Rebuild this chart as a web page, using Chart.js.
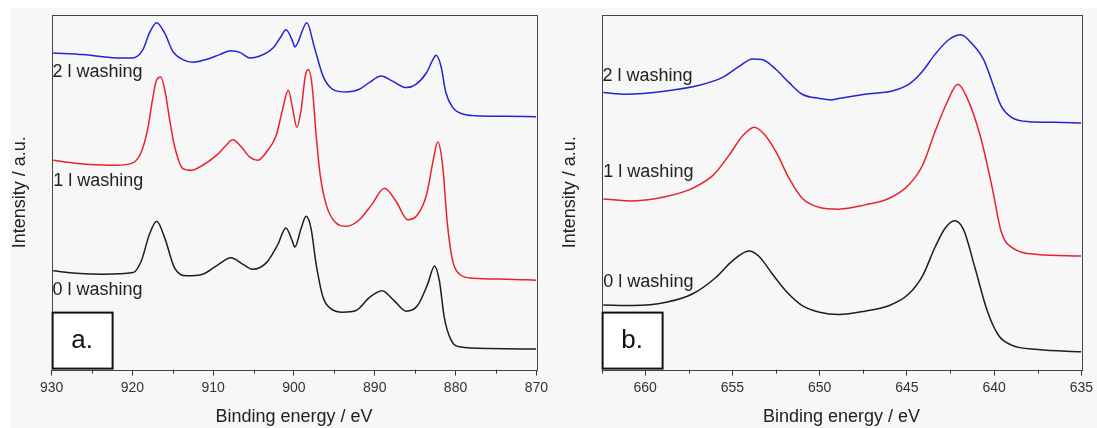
<!DOCTYPE html>
<html>
<head>
<meta charset="utf-8">
<script src="https://cdn.jsdelivr.net/npm/chart.js@4.4.1/dist/chart.umd.min.js"></script>
<style>
  html, body { margin:0; padding:0; background:#ffffff; width:1097px; height:428px; overflow:hidden; }
  #bg { position:absolute; left:10px; top:8px; width:1087px; height:420px; background:#f7f7f7; }
  canvas { position:absolute; top:0; }
  #ca { left:0; }
  #cb { left:548px; }
</style>
</head>
<body>
<div id="bg"></div>
<canvas id="ca" width="552" height="428"></canvas>
<canvas id="cb" width="549" height="428"></canvas>
<script>
// ---------- Panel a (Ce 3d region) ----------
const seriesNames = ['2 l washing', '1 l washing', '0 l washing'];
const seriesColors = ['#2424d4', '#e8232b', '#1e1e1e'];

const energyA2 = [929.8, 926.1, 922.0, 919.9, 918.7, 917.9, 917.0, 916.0, 915.0, 913.75, 912.5, 910.9, 909.2, 907.8, 906.7, 905.5, 904.3, 902.6, 901.6, 901.0, 900.15, 899.9, 898.4, 897.5, 896.4, 895.2, 893.5, 891.9, 890.7, 889.2, 887.8, 886.1, 884.9, 883.6, 882.8, 882.4, 881.8, 881.2, 880.35, 879.1, 877.5, 873.7, 870.0];
const intensA2 = [319.7, 318, 314.7, 314.7, 323, 339.7, 350.3, 339.7, 321.3, 313, 310.3, 313, 318, 322, 320.3, 314.7, 316.3, 324.7, 336.3, 343, 331.3, 325.7, 350.3, 326.3, 296.3, 283, 280.3, 283, 289.7, 296.3, 291.3, 284.7, 288, 299.7, 313, 317.3, 306.3, 279.7, 264.7, 258, 256.3, 255.7, 255.3];

const energyA1 = [929.8, 927.8, 925.3, 922.0, 919.9, 918.9, 918.1, 917.5, 917.05, 916.5, 916.0, 915.4, 914.8, 913.75, 912.7, 911.3, 909.6, 908.4, 907.6, 906.5, 905.5, 904.5, 903.4, 902.2, 901.4, 900.7, 900.15, 899.65, 899.1, 898.6, 898.2, 897.75, 897.25, 896.75, 896.0, 895.0, 893.5, 891.9, 890.4, 888.8, 887.35, 885.9, 884.7, 883.6, 882.8, 882.2, 881.6, 881.0, 880.35, 879.5, 877.9, 873.7, 870.0];
const intensA1 = [211.3, 209, 207, 206.3, 209, 219.7, 243, 273, 291.3, 295.3, 283, 253, 226.3, 203, 201.3, 206.3, 216.3, 226.3, 232, 224.7, 214.7, 211.3, 219.7, 236.3, 263, 282, 263, 244.7, 263, 296.3, 303, 286.3, 236.3, 196.3, 166.3, 149.7, 144.7, 151.3, 166.3, 183, 169.7, 151.3, 156.3, 176.3, 209.7, 229.7, 206.3, 146.3, 109.7, 96.3, 92.3, 91.3, 90.3];

const energyA0 = [929.8, 926.95, 923.65, 919.9, 918.9, 917.9, 917.0, 916.0, 914.8, 913.3, 911.3, 909.6, 907.8, 906.3, 905.1, 903.4, 902.0, 901.0, 900.2, 899.9, 899.1, 898.5, 897.9, 897.25, 896.4, 895.4, 894.0, 892.3, 890.65, 889.1, 887.6, 886.1, 884.7, 883.45, 882.6, 882.0, 881.4, 880.55, 879.5, 875.8, 870.0];
const intensA0 = [99.7, 97.3, 96.3, 98, 109.7, 136.3, 149.7, 133, 103, 94.7, 96.3, 104.7, 113, 106.3, 101.3, 108, 126.3, 143, 129.7, 123.7, 143, 154.7, 143, 106.3, 73, 61.3, 58, 59.7, 73, 79.7, 69.7, 59, 64.7, 86.3, 104.7, 89.7, 53, 29.7, 23, 21.3, 20.7];

// ---------- Panel b (Mn 2p region) ----------
const energyB2 = [662.4, 661.1, 658.8, 656.9, 655.6, 654.6, 653.85, 653.3, 652.5, 651.75, 651.0, 650.0, 649.3, 648.9, 647.4, 645.85, 644.9, 644.1, 643.4, 642.6, 641.9, 641.3, 640.6, 640.1, 639.6, 639.0, 638.0, 636.5, 635.0];
const intensB2 = [279.7, 278, 281.3, 287, 294.7, 306.3, 313.7, 313, 303, 289.7, 278, 273.7, 272.3, 273.7, 278, 281.3, 288, 301.3, 318, 333, 338, 329.7, 313, 289.7, 266.3, 254.7, 250.3, 249.7, 249];

const energyB1 = [662.4, 660.7, 658.8, 657.3, 656.1, 655.2, 654.4, 653.75, 653.2, 652.5, 651.75, 651.0, 650.0, 648.9, 647.4, 646.0, 644.9, 644.1, 643.4, 642.7, 642.08, 641.6, 640.8, 640.1, 639.6, 638.8, 637.5, 635.0];
const intensB1 = [172.3, 170.3, 174.7, 183, 196.3, 216.3, 236.3, 244.7, 238, 219.7, 193, 173, 163.7, 162, 166.3, 173, 186.3, 206.3, 239.7, 269.7, 288, 276.3, 236.3, 183, 139.7, 121.3, 116.3, 114.7];

const energyB0 = [662.4, 660.7, 658.8, 657.3, 655.95, 655.0, 654.05, 653.5, 652.7, 651.95, 651.0, 650.0, 648.9, 647.4, 646.0, 644.9, 644.1, 643.4, 642.8, 642.27, 641.75, 641.1, 640.4, 639.75, 639.0, 637.5, 635.0];
const intensB0 = [65.3, 64.7, 68, 76.3, 93, 109.7, 119.7, 114.7, 96.3, 79.7, 64.7, 58, 55.7, 59, 64.7, 76.3, 94.7, 123, 143, 150.3, 141.3, 103, 59.7, 34.7, 24.7, 20.3, 18];

// axis ranges / ticks
const rangeA = [870, 930], majorA = 10, minorA = 5;
const rangeB = [635, 662.5], majorB = 5, minorB = 2.5;
const yRange = [0, 358];

// label anchor positions (energy, intensity) for series names
const labelPosA = [[929.9, 300], [929.8, 190], [929.9, 80]];
const labelPosB = [[662.45, 296], [662.4, 199], [662.4, 88]];
const panelTags = ['a.', 'b.'];

const FONT = '"Liberation Sans", Arial, Helvetica, sans-serif';

function pts(xs, ys) { return xs.map((x, i) => ({ x: x, y: ys[i] })); }

const annotPlugin = {
  id: 'annot',
  afterDraw(chart, args, opts) {
    const { ctx, chartArea: ca, scales } = chart;
    const xs = scales.x, ys = scales.y;
    ctx.save();
    // frame
    ctx.strokeStyle = '#444';
    ctx.lineWidth = 1;
    ctx.strokeRect(Math.round(ca.left) + 0.5, Math.round(ca.top) + 0.5, Math.round(ca.right - ca.left), Math.round(ca.bottom - ca.top));
    // minor ticks
    ctx.beginPath();
    for (let v = opts.range[0]; v <= opts.range[1] + 1e-6; v += opts.minor) {
      if (Math.abs(v / opts.major - Math.round(v / opts.major)) < 1e-6) continue;
      const px = Math.round(xs.getPixelForValue(v)) + 0.5;
      ctx.moveTo(px, ca.bottom);
      ctx.lineTo(px, ca.bottom + 4);
    }
    ctx.strokeStyle = '#333';
    ctx.stroke();
    // series labels
    ctx.font = '18px ' + FONT;
    ctx.fillStyle = '#222';
    ctx.textAlign = 'left';
    ctx.textBaseline = 'middle';
    opts.labels.forEach((p, i) => {
      ctx.fillText(seriesNames[i], xs.getPixelForValue(p[0]), ys.getPixelForValue(p[1]));
    });
    // panel tag box
    const bx = ca.left, by = ca.bottom - 58, bw = 61, bh = 58;
    ctx.fillStyle = '#ffffff';
    ctx.fillRect(bx, by, bw, bh);
    ctx.lineWidth = 2;
    ctx.strokeStyle = '#111';
    ctx.strokeRect(bx + 1, by + 1, bw - 1, bh - 2);
    ctx.fillStyle = '#111';
    ctx.font = '26px ' + FONT;
    ctx.textAlign = 'center';
    ctx.fillText(opts.tag, bx + bw / 2, by + bh / 2);
    ctx.restore();
  }
};

function makeChart(id, sets, range, major, minor, labels, tag, padLeft, padRight) {
  const ds = sets.map((s, i) => ({
    label: seriesNames[i],
    data: pts(s[0], s[1]),
    borderColor: seriesColors[i],
    borderWidth: 1.5,
    pointRadius: 0,
    fill: false,
    cubicInterpolationMode: 'monotone'
  }));
  return new Chart(document.getElementById(id), {
    type: 'line',
    data: { datasets: ds },
    options: {
      responsive: false,
      devicePixelRatio: 1,
      animation: false,
      layout: { padding: { left: padLeft, right: padRight, top: 15, bottom: 0 } },
      plugins: {
        legend: { display: false },
        tooltip: { enabled: false },
        annot: { range: range, major: major, minor: minor, labels: labels, tag: tag }
      },
      scales: {
        x: {
          type: 'linear',
          reverse: true,
          min: range[0],
          max: range[1],
          border: { display: false },
          grid: {
            drawOnChartArea: false,
            drawTicks: true,
            tickLength: 6,
            tickColor: (c) => (Math.abs(c.tick.value / major - Math.round(c.tick.value / major)) < 1e-6 ? '#333' : 'rgba(0,0,0,0)')
          },
          ticks: {
            stepSize: minor,
            autoSkip: false,
            maxRotation: 0,
            padding: 4,
            color: '#333',
            font: { family: FONT, size: 14 },
            callback: (v) => (Math.abs(v / major - Math.round(v / major)) < 1e-6 ? String(Math.round(v)) : '')
          },
          title: {
            display: true,
            text: 'Binding energy / eV',
            color: '#222',
            font: { family: FONT, size: 18 },
            padding: { top: 6, bottom: 0 }
          }
        },
        y: {
          min: yRange[0],
          max: yRange[1],
          border: { display: false },
          grid: { display: false, drawTicks: false },
          ticks: { display: false },
          title: {
            display: true,
            text: 'Intensity / a.u.',
            color: '#222',
            font: { family: FONT, size: 18 },
            padding: { top: 4, bottom: 21 }
          }
        }
      }
    },
    plugins: [annotPlugin]
  });
}

makeChart('ca', [[energyA2, intensA2], [energyA1, intensA1], [energyA0, intensA0]], rangeA, majorA, minorA, labelPosA, panelTags[0], 5, 0);
makeChart('cb', [[energyB2, intensB2], [energyB1, intensB1], [energyB0, intensB0]], rangeB, majorB, minorB, labelPosB, panelTags[1], 7, 1);
</script>
</body>
</html>
